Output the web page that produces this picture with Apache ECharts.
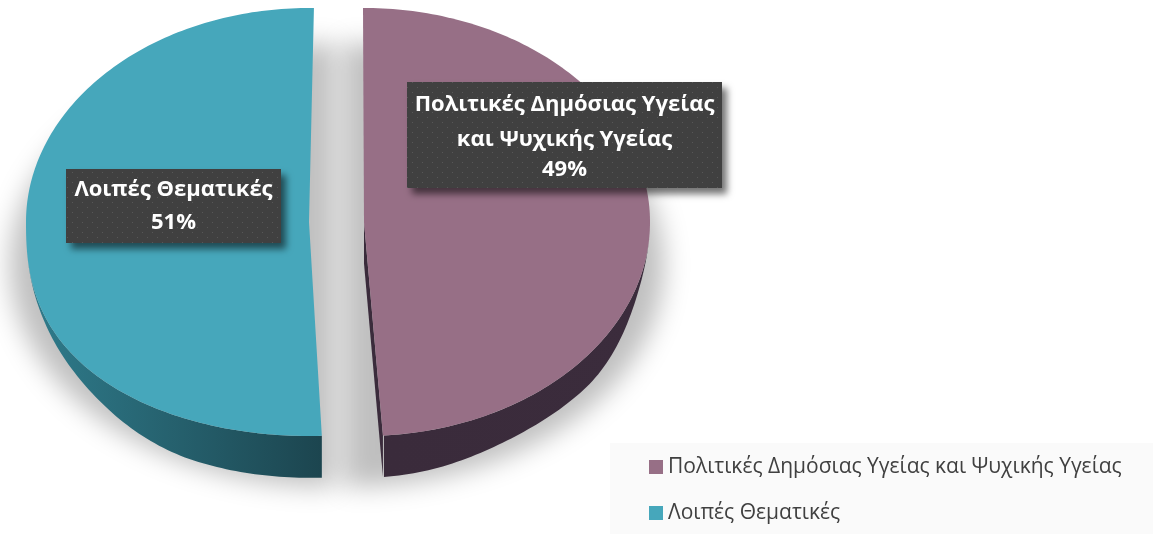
<!DOCTYPE html>
<html lang="el">
<head>
    <meta charset="UTF-8"/>
    <title>Pie</title>
    <script src="https://cdn.jsdelivr.net/npm/echarts@6/dist/echarts.min.js"></script>
    <style>
        html, body { margin: 0; padding: 0; background: #fff; }
    </style>
</head>
<body>
<div id="main" style="width: 1153px;height:534px;"></div>

<script type="text/javascript">
    // data
    var categories = ['Πολιτικές Δημόσιας Υγείας και Ψυχικής Υγείας', 'Λοιπές Θεματικές'];
    var shares = [49, 51];
    var labelLines = [['Πολιτικές Δημόσιας Υγείας', 'και Ψυχικής Υγείας'], ['Λοιπές Θεματικές']];

    var topColors = ['#976f86', '#46a7bb'];
    var wallColors = [['#3a2b3b', '#3b2c3c'], ['#1c454f', '#2f7c8c']];

    // the pie is squashed and its slices are pulled apart, so each slice has its own centre
    var centres = [[364, 222], [309, 222]];
    var startAngles = [-0.2, 177.4];
    var radiiX = [286, 283];
    var radiusY = 214;
    var lowerPower = [1, 0.8];   // left slice bulges more at the bottom (perspective)
    // visible wall height at some angles: [degrees clockwise from top, px]
    var wallHeights = [
        [[103, 0], [119, 30], [150, 32], [165, 40], [176, 42]],
        [[177, 42], [199, 41], [214, 37], [228, 22], [241, 12], [258, 0]]
    ];
    var shadowCentres = [[344, 265], [334, 265]];
    var shadowRadiiX = [320, 324];
    var shadowRadiusY = 222;
    var boxes = [[407, 82, 315, 106], [66, 169, 215, 74]];
    var lineY = [[105, 140, 170], [190, 223]];

    // dotted texture of the callouts
    var tile = document.createElement('canvas');
    tile.width = 10;
    tile.height = 10;
    var ctx = tile.getContext('2d');
    ctx.fillStyle = '#404040';
    ctx.fillRect(0, 0, 10, 10);
    ctx.fillStyle = '#575757';
    ctx.fillRect(2, 2, 1, 1);
    ctx.fillRect(7, 7, 1, 1);

    function pointAt(idx, deg) {
        var a = deg * Math.PI / 180;
        var c = Math.cos(a);
        var y = c < 0 ? Math.pow(-c, lowerPower[idx]) : -c;
        return [centres[idx][0] + radiiX[idx] * Math.sin(a), centres[idx][1] + radiusY * y];
    }

    function arc(idx, from, to) {
        var pts = [];
        for (var d = from; d < to; d += 1) {
            pts.push(pointAt(idx, d));
        }
        pts.push(pointAt(idx, to));
        return pts;
    }

    function rawWall(idx, deg) {
        var t = wallHeights[idx];
        if (deg <= t[0][0]) return t[0][1];
        for (var i = 1; i < t.length; i++) {
            if (deg <= t[i][0]) {
                return t[i - 1][1] + (t[i][1] - t[i - 1][1]) * (deg - t[i - 1][0]) / (t[i][0] - t[i - 1][0]);
            }
        }
        return t[t.length - 1][1];
    }

    // averaged so the lower rim has no corners
    function wallAt(idx, deg) {
        var sum = 0, n = 0;
        for (var k = -10; k <= 10; k += 2) {
            sum += rawWall(idx, deg + k);
            n++;
        }
        return sum / n;
    }

    function makeRender(idx) {
        return function (params, api) {
            var sweep = api.value(0) / 100 * 360;
            var c = centres[idx];
            var from = startAngles[idx];
            var to = from + sweep;
            var kids = [];

            // soft ground shadow, the shape sits off canvas so only its blur shows
            var far = 3000;
            var sc = shadowCentres[idx];
            var shadowPts = [];
            for (var d = 0; d <= 180; d += 2) {
                var a = (idx === 0 ? d : d + 180) * Math.PI / 180;
                shadowPts.push([sc[0] - far + shadowRadiiX[idx] * Math.sin(a), sc[1] - shadowRadiusY * Math.cos(a)]);
            }
            kids.push({
                type: 'polygon', z2: 0,
                shape: { points: shadowPts },
                style: { fill: '#000', shadowBlur: 26, shadowOffsetX: far, shadowColor: 'rgba(0,0,0,0.25)' }
            });

            // wall
            var wall = {
                type: 'linear', x: idx === 0 ? 0 : 1, y: 0, x2: idx === 0 ? 1 : 0, y2: 0,
                colorStops: [{ offset: 0, color: wallColors[idx][0] }, { offset: 1, color: wallColors[idx][1] }]
            };
            var band = [];
            var first = wallHeights[idx][0][0];
            var last = wallHeights[idx][wallHeights[idx].length - 1][0];
            var low = Math.max(from, idx === 0 ? first - 10 : first);
            var high = Math.min(to, idx === 0 ? last : last + 10);
            arc(idx, low, high).forEach(function (p) { band.push(p); });
            for (var e = high; e > low; e -= 1) {
                var q = pointAt(idx, e);
                band.push([q[0], q[1] + wallAt(idx, e)]);
            }
            var q0 = pointAt(idx, low);
            band.push([q0[0], q0[1] + wallAt(idx, low)]);
            kids.push({ type: 'polygon', z2: 1, shape: { points: band }, style: { fill: wall } });
            if (idx === 0) {
                // the cut face shows as a thin sliver on the right slice
                var p = pointAt(idx, to);
                var h = wallAt(idx, to);
                kids.push({
                    type: 'polygon', z2: 1,
                    shape: { points: [c, p, [p[0], p[1] + h], [c[0], c[1] + h]] },
                    style: { fill: wall }
                });
            }

            // top face
            kids.push({
                type: 'polygon', z2: 2,
                shape: { points: [c].concat(arc(idx, from, to)) },
                style: { fill: topColors[idx] }
            });

            // callout
            var b = boxes[idx];
            kids.push({
                type: 'rect', z2: 3,
                shape: { x: b[0], y: b[1], width: b[2], height: b[3] },
                style: {
                    fill: { image: tile, repeat: 'repeat' },
                    shadowBlur: 7, shadowOffsetX: 5, shadowOffsetY: 6, shadowColor: 'rgba(0,0,0,0.55)'
                }
            });
            var lines = labelLines[idx].concat([api.value(0) + '%']);
            lines.forEach(function (line, i) {
                kids.push({
                    type: 'text', z2: 4,
                    style: {
                        x: b[0] + b[2] / 2, y: lineY[idx][i], text: line,
                        fill: '#fff', font: 'bold 22px "Open Sans"', align: 'center', verticalAlign: 'middle'
                    }
                });
            });
            return { type: 'group', children: kids };
        };
    }

    var myChart = echarts.init(document.getElementById('main'));
    var option = {
        animation: false,
        backgroundColor: '#fff',
        tooltip: { show: false },
        graphic: [{
            type: 'rect', z: 3,
            shape: { x: 610, y: 443, width: 543, height: 91 },
            style: { fill: '#fafafa' }
        }],
        legend: {
            orient: 'vertical',
            left: 649,
            top: 456,
            padding: 0,
            itemWidth: 14,
            itemHeight: 14,
            itemGap: 24,
            icon: 'rect',
            data: categories,
            textStyle: { color: '#404040', fontFamily: 'Open Sans', fontSize: 21, lineHeight: 22 }
        },
        series: categories.map(function (name, i) {
            return {
                type: 'custom',
                name: name,
                coordinateSystem: 'none',
                silent: true,
                itemStyle: { color: topColors[i] },
                data: [[shares[i]]],
                renderItem: makeRender(i)
            };
        })
    };
    myChart.setOption(option);
</script>
</body>
</html>
